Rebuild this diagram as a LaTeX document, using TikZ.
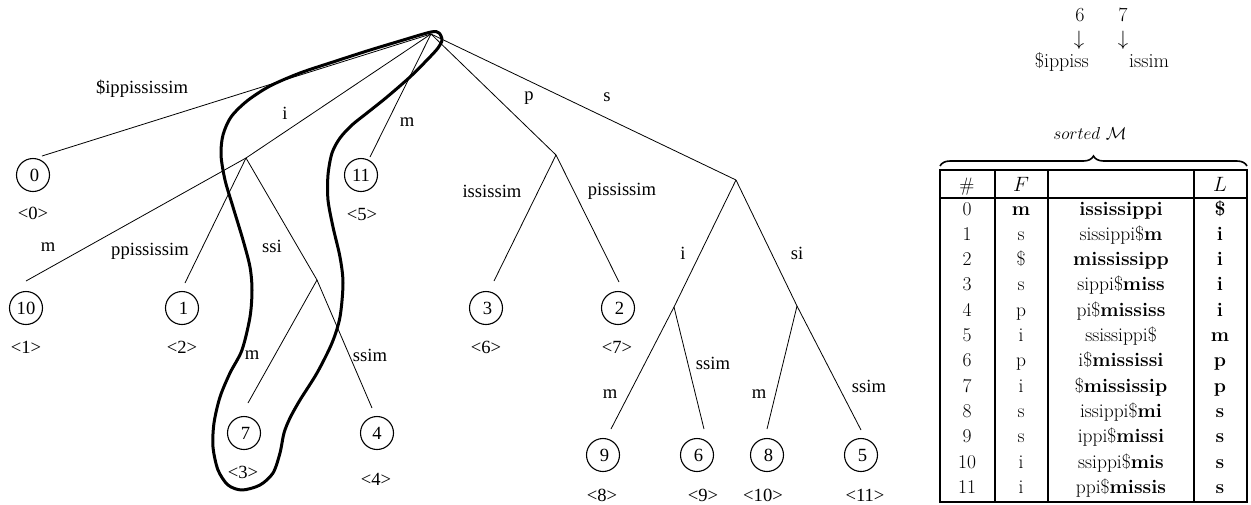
\documentclass[tikz,border=0pt]{standalone}
\usepackage{fontspec}
\newfontfamily\treefont{Liberation Serif}
\usetikzlibrary{decorations.pathreplacing}
\begin{document}
\begin{tikzpicture}[x=1pt,y=-1pt,
  edge/.style={line width=0.8pt},
  leaf/.style={circle, draw, line width=1.1pt, minimum size=33pt, inner sep=0pt,
    font=\treefont\fontsize{18.6}{22}\selectfont},
  lbl/.style={font=\treefont\fontsize{18.6}{22}\selectfont, inner sep=0pt},
  tcell/.style={font=\fontsize{19.5}{23}\selectfont, inner sep=0pt, anchor=base},
  tabrule/.style={line width=1.6pt},
  hull/.style={line width=3pt, line join=round}]
\useasboundingbox (0,0) rectangle (1251,504);

% ---------- tree: leaves ----------
\node[leaf] (c0)  at (33,175)  {\hspace{3pt}0};
\node[leaf] (c11) at (361,175) {11};
\node[leaf] (c10) at (26,308)  {10};
\node[leaf] (c1)  at (182,308) {\hspace{3pt}1};
\node[leaf] (c7)  at (244,433) {\hspace{3pt}7};
\node[leaf] (c4)  at (377,433) {4};
\node[leaf] (c3)  at (486,308) {\hspace{3pt}3};
\node[leaf] (c2)  at (618,308) {\hspace{3pt}2};
\node[leaf] (c9)  at (603,455) {\hspace{3pt}9};
\node[leaf] (c6)  at (697,455) {\hspace{3pt}6};
\node[leaf] (c8)  at (767,455) {\hspace{3pt}8};
\node[leaf] (c5)  at (861,455) {\hspace{3pt}5};

% ranks
\node[lbl] (r0)  at (33,213)  {<0>};
\node[lbl] (r5)  at (362,214) {<5>};
\node[lbl] (r1)  at (26,347)  {<1>};
\node[lbl] (r2)  at (182,347) {<2>};
\node[lbl] (r3)  at (243,472) {<3>};
\node[lbl] (r4)  at (376,479) {<4>};
\node[lbl] (r6)  at (486,347) {<6>};
\node[lbl] (r7)  at (617,347) {<7>};
\node[lbl] (r8)  at (602,495) {<8>};
\node[lbl] (r9)  at (703,495) {<9>};
\node[lbl] (r10) at (763,495) {<10>};
\node[lbl] (r11) at (865,495) {<11>};

% ---------- tree: inner points ----------
\coordinate (root) at (431,34);
\coordinate (ni)   at (246,158);
\coordinate (nssi) at (317,280);
\coordinate (np)   at (556,155);
\coordinate (ns)   at (736,180);
\coordinate (nsi)  at (674,307);
\coordinate (nss)  at (797,306);

% free ends above the leaves
\coordinate (e0)  at (42,156);
\coordinate (e11) at (370,157);
\coordinate (e10) at (26,281);
\coordinate (e1)  at (185,283);
\coordinate (e7)  at (248,403);
\coordinate (e4)  at (372,408);
\coordinate (e3)  at (494,281);
\coordinate (e2)  at (619,282);
\coordinate (e9)  at (611,429);
\coordinate (e6)  at (704,429);
\coordinate (e8)  at (767,429);
\coordinate (e5)  at (861,430);

% ---------- tree: edges ----------
\draw[edge] (root) -- (e0);
\draw[edge] (root) -- (ni);
\draw[edge] (root) -- (e11);
\draw[edge] (root) -- (np);
\draw[edge] (root) -- (ns);
\draw[edge] (ni) -- (e10);
\draw[edge] (ni) -- (e1);
\draw[edge] (ni) -- (nssi);
\draw[edge] (nssi) -- (e7);
\draw[edge] (nssi) -- (e4);
\draw[edge] (np) -- (e3);
\draw[edge] (np) -- (e2);
\draw[edge] (ns) -- (nsi);
\draw[edge] (ns) -- (nss);
\draw[edge] (nsi) -- (e9);
\draw[edge] (nsi) -- (e6);
\draw[edge] (nss) -- (e8);
\draw[edge] (nss) -- (e5);

% ---------- tree: edge labels ----------
\node[lbl] (l0)   at (142,89)  {\$ippississim};
\node[lbl] (li)   at (285,113) {i};
\node[lbl] (l11)  at (407,122) {m};
\node[lbl] (lp)   at (529,98)  {p};
\node[lbl] (ls)   at (607,97)  {s};
\node[lbl] (l10)  at (48,247)  {m};
\node[lbl] (l1)   at (150,251) {ppississim};
\node[lbl] (lssi) at (272,246) {ssi};
\node[lbl] (l7)   at (252,355) {m};
\node[lbl] (l4)   at (370,355) {ssim};
\node[lbl] (l3)   at (492,191) {ississim};
\node[lbl] (l2)   at (622,191) {pississim};
\node[lbl] (lsi1) at (683,253) {i};
\node[lbl] (lsi2) at (797,253) {si};
\node[lbl] (l9)   at (610,394) {m};
\node[lbl] (l6)   at (713,363) {ssim};
\node[lbl] (l8)   at (759,394) {m};
\node[lbl] (l5)   at (869,386) {ssim};

% ---------- highlighted path ----------
\draw[hull] plot[smooth cycle, tension=0.5] coordinates {
 (431,32) (400,41) (367,51) (333,62) (300,73) (270,86) (247,101) (231,117)
 (223,135) (221,155) (225,180) (233,207) (243,240) (250,267) (252,290)
 (250,317) (242,350) (230,373) (220,397) (214,423) (213,447) (218,470)
 (228,485) (242,490) (260,485) (273,473) (280,453) (284,433) (290,418)
 (300,400) (317,373) (332,343) (340,317) (343,283) (340,257) (333,227)
 (328,200) (328,175) (332,153) (340,138) (352,125) (367,113) (387,97)
 (410,77) (428,59) (438,48) (442,40) (439,33)};

% ---------- top right ----------
\node[font=\fontsize{20}{24}\selectfont, inner sep=0pt] (six)   at (1080,15) {6};
\node[font=\fontsize{20}{24}\selectfont, inner sep=0pt] (seven) at (1123,15) {7};
\node[font=\fontsize{20}{24}\selectfont, inner sep=0pt] (ar6)   at (1079,40) {$\downarrow$};
\node[font=\fontsize{20}{24}\selectfont, inner sep=0pt] (ar7)   at (1123,40) {$\downarrow$};
\node[font=\fontsize{20}{24}\selectfont, inner sep=0pt, anchor=base east] (w6) at (1089,67) {\$ippiss};
\node[font=\fontsize{20}{24}\selectfont, inner sep=0pt, anchor=base west] (w7) at (1129,67) {issim};

% ---------- sorted table ----------
\node[font=\fontsize{18.5}{22}\selectfont, inner sep=0pt] (srt) at (1090,133) {$sorted\ \mathcal{M}$};
\draw[line width=1.6pt, decorate, decoration={brace, amplitude=10pt}] (940,166) -- (1247,166);

\draw[tabrule] (940,170) rectangle (1247,502);
\draw[tabrule] (995,170) -- (995,502);
\draw[tabrule] (1048,170) -- (1048,502);
\draw[tabrule] (1194,170) -- (1194,502);
\draw[tabrule] (940,198) -- (1247,198);

\node[tcell] (hnum) at (967,191)  {$\#$};
\node[tcell] (hF)   at (1021,191) {$F$};
\node[tcell] (hL)   at (1220,191) {$L$};

\foreach \i/\f/\m/\l in {
  0/{\textbf{m}}/{\textbf{ississippi}}/{\textbf{\$}},
  1/{s}/{sissippi\$\textbf{m}}/{\textbf{i}},
  2/{\$}/{\textbf{mississipp}}/{\textbf{i}},
  3/{s}/{sippi\$\textbf{miss}}/{\textbf{i}},
  4/{p}/{pi\$\textbf{mississ}}/{\textbf{i}},
  5/{i}/{ssissippi\$}/{\textbf{m}},
  6/{p}/{i\$\textbf{mississi}}/{\textbf{p}},
  7/{i}/{\$\textbf{mississip}}/{\textbf{p}},
  8/{s}/{issippi\$\textbf{mi}}/{\textbf{s}},
  9/{s}/{ippi\$\textbf{missi}}/{\textbf{s}},
  10/{i}/{ssippi\$\textbf{mis}}/{\textbf{s}},
  11/{i}/{ppi\$\textbf{missis}}/{\textbf{s}}} {
  \node[tcell] (n\i) at (967,{215+25.3*\i})  {\i};
  \node[tcell] (f\i) at (1021,{215+25.3*\i}) {\f};
  \node[tcell] (m\i) at (1121,{215+25.3*\i}) {\m};
  \node[tcell] (l\i) at (1220,{215+25.3*\i}) {\l};
}
\end{tikzpicture}
\end{document}
